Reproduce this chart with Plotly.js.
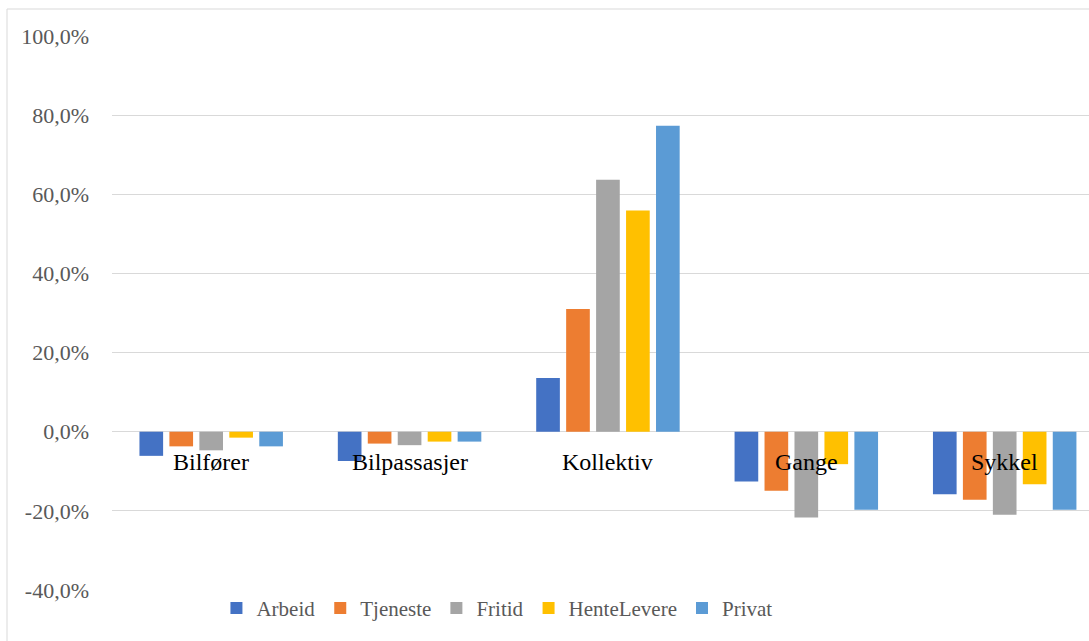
<!DOCTYPE html>
<html>
<head>
<meta charset="utf-8">
<script src="https://cdn.plot.ly/plotly-3.0.1.min.js"></script>
<style>html,body{margin:0;padding:0;background:#fff;}#chart{width:1089px;height:641px;}</style>
</head>
<body>
<div id="chart"></div>
<script>
const categories = ['Bilfører', 'Bilpassasjer', 'Kollektiv', 'Gange', 'Sykkel'];
const arbeid      = [-6.1, -7.4, 13.6, -12.6, -15.8];
const tjeneste    = [-3.7, -3.0, 31.0, -14.9, -17.2];
const fritid      = [-4.7, -3.4, 63.7, -21.7, -21.0];
const henteLevere = [-1.5, -2.5, 55.9, -8.2, -13.3];
const privat      = [-3.7, -2.5, 77.3, -19.7, -19.7];
const seriesNames = ['Arbeid', 'Tjeneste', 'Fritid', 'HenteLevere', 'Privat'];
const seriesColors = ['#4472C4', '#ED7D31', '#A5A5A5', '#FFC000', '#5B9BD5'];
const tickValues = [-40, -20, 0, 20, 40, 60, 80, 100];
const tickLabels = ['-40,0%', '-20,0%', '0,0%', '20,0%', '40,0%', '60,0%', '80,0%', '100,0%'];

const seriesData = [arbeid, tjeneste, fritid, henteLevere, privat];
const traces = seriesData.map((vals, i) => ({
  type: 'bar',
  name: seriesNames[i],
  x: categories,
  y: vals,
  marker: {color: seriesColors[i], line: {width: 0}},
  hoverinfo: 'skip'
}));

const serif = 'Liberation Serif';

const annotations = categories.map(c => ({
  x: c, y: 0, xref: 'x', yref: 'y',
  text: c, showarrow: false,
  yanchor: 'middle', xanchor: 'center', yshift: -30,
  font: {family: serif, size: 24, color: '#000000'}
}));

const layout = {
  width: 1089, height: 641,
  margin: {l: 112, r: 0, t: 36, b: 51, pad: 0},
  paper_bgcolor: '#ffffff', plot_bgcolor: '#ffffff',
  barmode: 'group',
  bargap: 0.245,
  bargroupgap: 0.21,
  font: {family: serif, size: 21, color: '#595959'},
  xaxis: {
    type: 'category',
    range: [-0.5, 4.425],
    showticklabels: false,
    showgrid: false, zeroline: false, showline: false, ticks: ''
  },
  yaxis: {
    range: [-40, 100],
    tickvals: tickValues,
    ticktext: tickLabels,
    showgrid: true, gridcolor: '#d9d9d9', gridwidth: 1,
    zeroline: true, zerolinecolor: '#d9d9d9', zerolinewidth: 1,
    showline: false, ticks: '',
    ticklabelstandoff: 22,
    tickfont: {family: serif, size: 22, color: '#595959'}
  },
  showlegend: true,
  legend: {
    orientation: 'h',
    x: 0.394, xanchor: 'center',
    y: -0.033, yanchor: 'middle',
    font: {family: serif, size: 21, color: '#595959'},
    itemwidth: 30,
    traceorder: 'normal'
  },
  annotations: annotations,
  shapes: [{
    type: 'rect', xref: 'paper', yref: 'paper',
    x0: (7 - 112) / 977, x1: 1.2, y0: -0.3, y1: 1 + 27 / 554,
    line: {color: '#d9d9d9', width: 1}, layer: 'below'
  }]
};

Plotly.newPlot('chart', traces, layout, {staticPlot: true, displayModeBar: false});
</script>
</body>
</html>
